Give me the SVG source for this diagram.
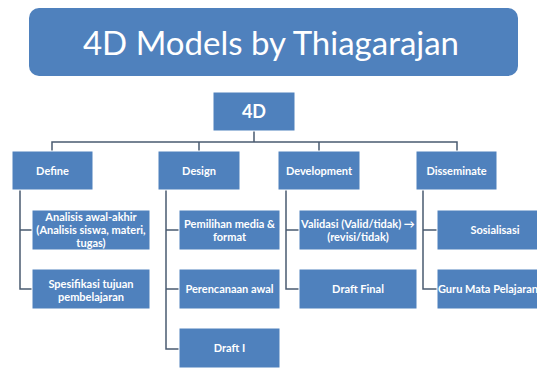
<svg xmlns="http://www.w3.org/2000/svg" width="537" height="369" viewBox="0 0 537 369">
<style>
.box{fill:#4f81bd;stroke:#ffffff;stroke-width:1}
.t{fill:#ffffff;font-family:Lato,"Liberation Sans",sans-serif;font-weight:bold;font-size:11px;text-anchor:middle}
.c{fill:none;stroke:#4a5b70;stroke-width:1.5}
</style>
<rect width="537" height="369" fill="#ffffff"/>
<g id="title">
<rect x="29" y="8" width="489" height="68" rx="10" ry="10" fill="#4f81bd"/>
<text x="271" y="55" fill="#ffffff" font-family="Lato,'Liberation Sans',sans-serif" font-size="33" text-anchor="middle">4D Models by Thiagarajan</text>
</g>
<g id="connectors">
<path class="c" d="M254,131V142M52,151V142H457V151M199,142V151M319,142V151"/>
<path class="c" d="M20,190V289H32M20,230H32"/>
<path class="c" d="M166,190V349H179M166,230H179M166,289H179"/>
<path class="c" d="M286,190V289H299M286,230H299"/>
<path class="c" d="M423,190V289H437M423,230H437"/>
</g>
<g id="n4d"><rect class="box" x="213" y="92" width="82" height="39"/><text class="t" x="254" y="118" style="font-size:18px">4D</text></g>
<g id="define"><rect class="box" x="12" y="151" width="81" height="39"/><text class="t" x="52.5" y="175">Define</text></g>
<g id="design"><rect class="box" x="158" y="151" width="82" height="39"/><text class="t" x="199" y="175">Design</text></g>
<g id="development"><rect class="box" x="278" y="151" width="82" height="39"/><text class="t" x="319" y="175">Development</text></g>
<g id="disseminate"><rect class="box" x="416" y="151" width="81" height="39"/><text class="t" x="456.5" y="175">Disseminate</text></g>
<g id="analisis"><rect class="box" x="32" y="210" width="118" height="40"/><text class="t" x="91" y="221">Analisis awal-akhir</text><text class="t" x="91" y="234">(Analisis siswa, materi,</text><text class="t" x="91" y="247">tugas)</text></g>
<g id="spesifikasi"><rect class="box" x="32" y="269" width="118" height="40"/><text class="t" x="91" y="288">Spesifikasi tujuan</text><text class="t" x="91" y="301">pembelajaran</text></g>
<g id="pemilihan"><rect class="box" x="179" y="210" width="101" height="40"/><text class="t" x="229.5" y="228">Pemilihan media &amp;</text><text class="t" x="229.5" y="241">format</text></g>
<g id="perencanaan"><rect class="box" x="179" y="269" width="101" height="40"/><text class="t" x="229.5" y="293">Perencanaan awal</text></g>
<g id="draft1"><rect class="box" x="179" y="328" width="101" height="40"/><text class="t" x="229.5" y="352">Draft I</text></g>
<g id="validasi"><rect class="box" x="299" y="210" width="118" height="40"/><text class="t" x="358" y="228">Validasi (Valid/tidak) →</text><text class="t" x="358" y="241">(revisi/tidak)</text></g>
<g id="draftfinal"><rect class="box" x="299" y="269" width="118" height="40"/><text class="t" x="358" y="293">Draft Final</text></g>
<g id="sosialisasi"><rect class="box" x="437" y="210" width="118" height="40"/><text class="t" x="495" y="234">Sosialisasi</text></g>
<g id="guru"><rect class="box" x="437" y="269" width="118" height="40"/><text class="t" x="488" y="293">Guru Mata Pelajaran</text></g>
</svg>
